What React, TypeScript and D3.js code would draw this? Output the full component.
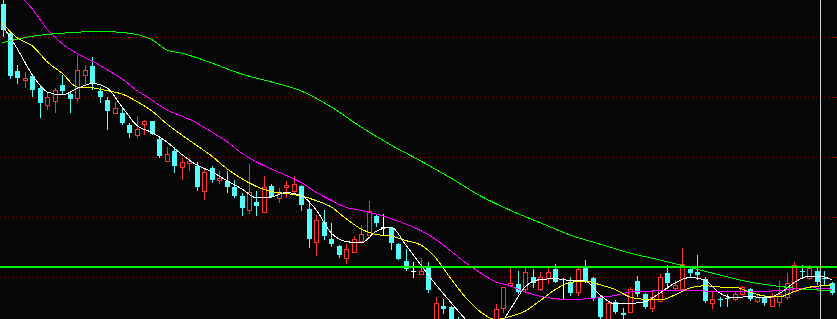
import React from 'react';
import * as d3 from 'd3';

const W = 837;
const H = 319;

// Daily OHLC (price units)
const opens = [8.73,8.44,8.06,7.97,8.01,7.89,7.72,7.76,7.92,7.83,7.79,8.02,8.11,7.86,7.77,7.64,7.64,7.52,7.42,7.53,7.56,7.38,7.16,7.26,7.10,7.14,7.11,6.86,7.09,6.97,6.96,6.90,6.81,6.67,6.75,6.65,6.91,6.79,6.90,6.86,6.91,6.68,6.35,6.55,6.38,6.31,6.19,6.25,6.36,6.42,6.61,6.50,6.49,6.33,6.16,6.06,6.03,6.10,5.55,5.71,5.70,5.55,5.52,5.42,5.39,5.44,5.52,5.69,5.92,5.93,5.88,6.00,5.88,5.99,6.08,5.98,5.94,5.85,6.10,5.99,5.79,5.56,5.75,5.64,5.65,5.96,5.83,5.69,5.76,6.04,5.89,5.88,6.08,6.05,5.98,5.74,5.78,5.795,5.785,5.83,5.88,5.765,5.79,5.71,5.75,5.80,5.86,6.065,5.99,6.06,5.99,5.94];
const highs = [8.80,8.46,8.12,8.05,8.03,7.91,7.85,7.89,8.02,7.86,8.22,8.12,8.20,7.90,7.80,7.75,7.69,7.54,7.61,7.57,7.56,7.41,7.30,7.30,7.19,7.19,7.15,7.09,7.11,7.06,7.06,6.97,6.84,7.13,6.86,7.01,6.93,6.89,6.96,7.01,6.92,6.75,6.62,6.67,6.54,6.32,6.33,6.41,6.52,6.76,6.62,6.63,6.50,6.34,6.28,6.15,6.19,6.15,5.80,5.78,5.71,5.60,5.55,5.52,5.51,5.52,5.73,5.90,6.10,6.06,6.09,6.08,6.05,6.09,6.13,5.995,6.00,6.09,6.17,6.00,5.82,5.76,5.77,5.69,5.90,6.01,5.84,5.85,6.03,6.12,5.97,6.29,6.11,6.22,6.00,5.85,5.80,5.83,5.86,5.91,5.895,5.83,5.815,5.84,5.96,6.04,6.15,6.12,6.12,6.10,6.06,5.955];
const lows = [8.41,7.99,7.94,7.90,7.81,7.60,7.68,7.65,7.83,7.65,7.76,7.94,7.88,7.75,7.48,7.64,7.53,7.40,7.40,7.43,7.43,7.20,7.16,7.05,6.98,7.07,6.87,6.78,6.95,6.94,6.85,6.80,6.62,6.64,6.62,6.65,6.80,6.75,6.80,6.84,6.67,6.30,6.22,6.38,6.31,6.20,6.14,6.25,6.35,6.42,6.51,6.43,6.28,6.18,6.07,6.00,6.03,5.85,5.51,5.64,5.52,5.44,5.37,5.32,5.34,5.35,5.49,5.65,5.92,5.84,5.87,5.90,5.87,5.94,5.95,5.785,5.82,5.82,5.95,5.77,5.59,5.53,5.64,5.58,5.65,5.81,5.69,5.66,5.76,5.89,5.87,5.87,6.01,5.98,5.75,5.69,5.71,5.71,5.77,5.82,5.77,5.75,5.72,5.71,5.715,5.78,5.86,5.99,5.98,5.93,5.92,5.835];
const closes = [8.47,8.01,7.99,7.99,7.87,7.74,7.80,7.87,7.86,7.78,8.07,8.07,7.94,7.80,7.66,7.69,7.54,7.44,7.48,7.56,7.43,7.21,7.23,7.11,7.15,7.16,6.90,7.05,6.97,6.99,6.90,6.81,6.69,6.85,6.71,6.90,6.80,6.84,6.92,6.93,6.72,6.38,6.57,6.41,6.33,6.22,6.28,6.38,6.43,6.66,6.54,6.50,6.34,6.18,6.08,6.06,6.06,5.87,5.74,5.68,5.55,5.47,5.42,5.37,5.45,5.41,5.68,5.90,5.94,5.85,6.05,5.94,6.00,6.05,5.95,5.98,5.84,6.08,5.95,5.79,5.60,5.74,5.65,5.62,5.88,5.83,5.70,5.80,6.00,5.94,5.92,6.13,6.04,6.02,5.76,5.78,5.77,5.785,5.835,5.90,5.785,5.80,5.74,5.80,5.83,5.94,6.12,6.055,6.095,5.95,5.98,5.84];

// Moving averages (day index -> value)
const ma5Days = [0,2,4,6,8,10,12,14,16,18,20,22,24,26,28,30,32,34,36,38,40,42,44,46,48,50,52,54,56,58,60,62,64,66,68,70,72,74,76,78,80,82,84,86,88,90,92,94,96,98,100,102,104,106,108,110,111];
const ma5 = [8.515,8.28,8.02,7.85,7.82,7.885,7.935,7.89,7.70,7.515,7.445,7.35,7.225,7.12,7.053,6.965,6.883,6.792,6.80,6.845,6.815,6.67,6.44,6.355,6.34,6.455,6.50,6.32,6.12,5.925,5.747,5.575,5.42,5.47,5.68,5.904,5.975,5.982,5.965,5.96,5.82,5.73,5.735,5.753,5.84,5.94,5.995,5.97,5.84,5.79,5.808,5.79,5.835,5.945,6.01,6.00,5.97];
const ma10Days = ma5Days;
const ma10 = [8.535,8.39,8.31,8.15,8.036,7.90,7.892,7.863,7.83,7.755,7.66,7.53,7.42,7.315,7.21,7.085,6.985,6.905,6.854,6.835,6.81,6.764,6.70,6.582,6.48,6.425,6.41,6.364,6.32,6.19,5.985,5.795,5.65,5.575,5.606,5.66,5.765,5.875,5.946,5.958,5.922,5.875,5.80,5.776,5.77,5.82,5.89,5.913,5.90,5.898,5.85,5.81,5.802,5.855,5.898,5.915,5.922];
const ma20Days = [0,2,4,6,8,10,12,14,16,18,20,22,24,26,28,30,32,34,36,38,40,42,44,46,48,50,52,54,56,58,60,62,64,66,68,70,72,74,76,78,80,82,84,88,92,96,100,104,106,108,111];
const ma20 = [8.95,8.83,8.68,8.477,8.334,8.234,8.16,8.072,7.98,7.865,7.77,7.669,7.61,7.54,7.45,7.356,7.24,7.15,7.08,7.015,6.945,6.845,6.766,6.696,6.665,6.63,6.585,6.53,6.463,6.376,6.26,6.142,6.04,5.953,5.91,5.85,5.806,5.784,5.77,5.782,5.795,5.815,5.85,5.862,5.87,5.85,5.852,5.865,5.88,5.892,5.878];
const ma60Days = [0,4,8,12,14,16,18,20,22,24,26,28,32,36,40,44,48,52,56,60,64,68,72,76,80,84,88,92,96,100,104,108,111];
const ma60 = [8.344,8.408,8.438,8.453,8.453,8.445,8.424,8.374,8.27,8.238,8.193,8.14,8.03,7.95,7.86,7.70,7.50,7.32,7.16,6.99,6.81,6.666,6.542,6.42,6.328,6.24,6.17,6.095,6.02,5.95,5.906,5.875,5.863];

const gridLevels = [8.4, 7.8, 7.2, 6.6, 6.0];
const supportLevel = 6.11;
const cursorDay = 109.5;

const BG = '#060606';
const UP = '#ff3232';
const DOWN = '#54fcfc';

export default function App() {
  const n = opens.length;
  const x = d3.scaleLinear().domain([0, n - 1]).range([2.5, 831.7]);
  const y = d3.scaleLinear().domain([8.77, 5.58]).range([0, H]);

  const lineGen = d3
    .line<[number, number]>()
    .x((d) => x(d[0]))
    .y((d) => y(d[1]))
    .curve(d3.curveMonotoneX);

  const mas = [
    { days: ma60Days, vals: ma60, color: '#00ff00' },
    { days: ma20Days, vals: ma20, color: '#ff00ff' },
    { days: ma10Days, vals: ma10, color: '#ffff00' },
    { days: ma5Days, vals: ma5, color: '#ffffff' },
  ];

  const candles = opens.map((o, i) => {
    const c = closes[i];
    const h = highs[i];
    const l = lows[i];
    const cx = Math.round(x(i));
    const wx = cx + 0.5;
    const top = Math.round(y(Math.max(o, c)));
    const bot = Math.round(y(Math.min(o, c)));
    const yh = Math.round(y(h));
    const yl = Math.round(y(l));
    if (o === c) {
      return (
        <g key={i}>
          <line x1={wx} x2={wx} y1={yh} y2={yl + 1} stroke="#ffffff" />
          <line x1={cx - 2} x2={cx + 3} y1={top + 0.5} y2={top + 0.5} stroke="#ffffff" />
        </g>
      );
    }
    if (c > o) {
      const hgt = bot - top;
      return (
        <g key={i}>
          <line x1={wx} x2={wx} y1={yh} y2={top} stroke={UP} />
          <line x1={wx} x2={wx} y1={bot + 1} y2={yl + 1} stroke={UP} />
          {hgt <= 1 ? (
            <line x1={cx - 2} x2={cx + 3} y1={top + 0.5} y2={top + 0.5} stroke={UP} />
          ) : (
            <rect x={cx - 1.5} y={top + 0.5} width={4} height={hgt} fill={BG} stroke={UP} />
          )}
        </g>
      );
    }
    return (
      <g key={i}>
        <line x1={wx} x2={wx} y1={yh} y2={yl + 1} stroke={DOWN} />
        <rect x={cx - 2} y={top} width={5} height={Math.max(1, bot - top)} fill={DOWN} />
      </g>
    );
  });

  return (
    <div style={{ position: 'fixed', left: 0, top: 0, width: W, height: H }}>
      <svg width={W} height={H} style={{ display: 'block', background: BG }}>
        <rect x={0} y={0} width={W} height={H} fill={BG} />
        {gridLevels.map((g) => (
          <line
            key={g}
            x1={0}
            x2={W}
            y1={Math.round(y(g)) + 0.5}
            y2={Math.round(y(g)) + 0.5}
            stroke="#a00000"
            strokeDasharray="1,3"
            shapeRendering="crispEdges"
          />
        ))}
        <g shapeRendering="crispEdges">{candles}</g>
        {mas.map((m, k) => (
          <path
            key={k}
            d={lineGen(m.days.map((d, j) => [d, m.vals[j]] as [number, number])) || ''}
            fill="none"
            stroke={m.color}
            strokeWidth={1}
            shapeRendering="crispEdges"
          />
        ))}
        <line
          x1={0}
          x2={W}
          y1={Math.round(y(supportLevel)) + 1}
          y2={Math.round(y(supportLevel)) + 1}
          stroke="#00ff00"
          strokeWidth={2}
          shapeRendering="crispEdges"
        />
        <line
          x1={Math.round(x(cursorDay)) + 0.5}
          x2={Math.round(x(cursorDay)) + 0.5}
          y1={0}
          y2={H}
          stroke="#c8c8c8"
          strokeWidth={1}
          shapeRendering="crispEdges"
        />
      </svg>
    </div>
  );
}
